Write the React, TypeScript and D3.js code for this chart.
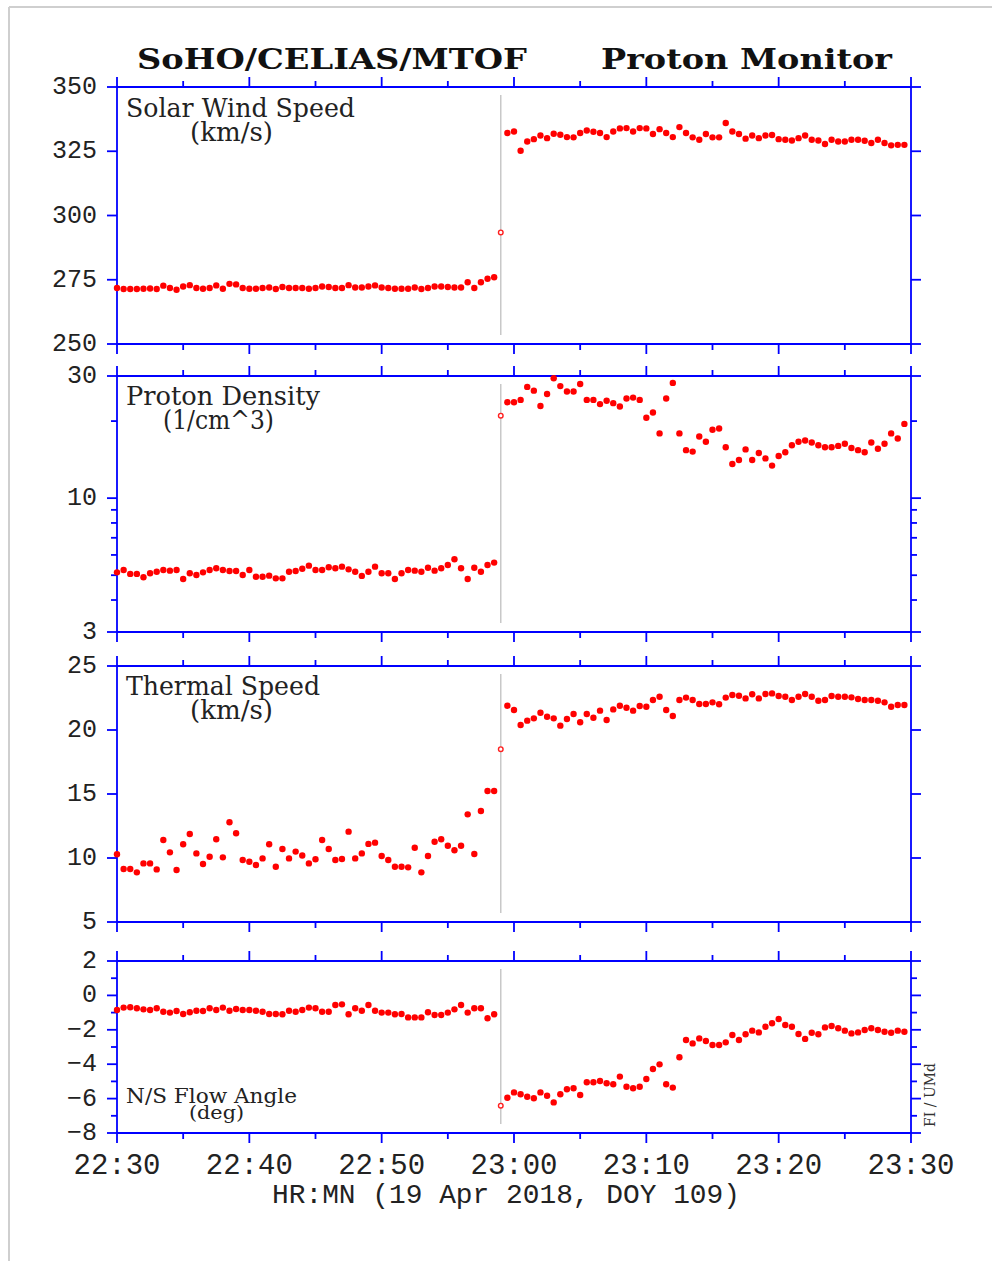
import React from 'react';
import * as d3 from 'd3';

// ---------------- DATA ----------------
// 30-second cadence samples, 22:30 -> 23:30 (minutes after 22:30)
const cadenceMin = 0.5;
const shockTime = 29.0;
const postStart = 29.5;

const speedPre = [271.8, 271.4, 271.4, 271.4, 271.5, 271.6, 271.4, 272.7, 271.8, 271.1, 272.4, 272.9, 271.8, 271.5, 271.8, 272.8, 271.5, 273.4, 273.2, 271.8, 271.5, 271.5, 271.8, 272.0, 271.4, 272.2, 271.8, 271.8, 271.8, 271.5, 271.8, 272.4, 272.2, 271.8, 271.8, 272.9, 272.0, 272.0, 272.4, 272.8, 272.0, 271.8, 271.5, 271.5, 271.5, 272.0, 271.4, 271.8, 272.4, 272.4, 272.2, 272.0, 272.0, 274.0, 271.8, 274.0, 275.4, 276.0];
const speedShock = 293.4;
const speedPost = [332.1, 332.7, 325.2, 328.8, 329.7, 331.1, 330.1, 331.8, 331.4, 330.5, 330.4, 332.1, 333.1, 332.6, 332.1, 330.5, 332.7, 333.9, 334.0, 332.7, 334.0, 333.9, 331.7, 333.6, 332.1, 330.5, 334.4, 332.1, 330.4, 329.5, 331.7, 330.4, 330.4, 336.0, 332.7, 331.7, 329.9, 331.1, 330.1, 331.1, 331.3, 329.7, 329.5, 329.2, 330.1, 331.1, 329.5, 329.2, 327.8, 329.5, 328.8, 328.8, 329.5, 329.5, 329.1, 328.2, 329.5, 328.2, 327.3, 327.5, 327.5];

const densityPre = [5.13, 5.24, 5.06, 5.06, 4.91, 5.09, 5.16, 5.24, 5.21, 5.24, 4.83, 5.09, 5.01, 5.13, 5.24, 5.32, 5.24, 5.19, 5.19, 5.01, 5.24, 4.93, 4.93, 4.98, 4.86, 4.86, 5.16, 5.19, 5.3, 5.45, 5.24, 5.24, 5.37, 5.32, 5.40, 5.27, 5.16, 4.97, 5.16, 5.40, 5.09, 5.09, 4.83, 5.09, 5.24, 5.21, 5.16, 5.35, 5.21, 5.32, 5.48, 5.77, 5.32, 4.83, 5.35, 5.16, 5.48, 5.60];
const densityShock = 21.0;
const densityPost = [23.7, 23.7, 24.2, 27.2, 26.3, 22.9, 25.5, 29.4, 27.4, 26.1, 26.1, 27.9, 24.2, 24.2, 23.3, 24.0, 23.5, 22.8, 24.5, 24.7, 24.2, 20.6, 21.6, 17.9, 24.5, 28.2, 17.9, 15.4, 15.2, 17.4, 16.6, 18.5, 18.7, 15.8, 13.6, 14.1, 15.5, 14.1, 15.0, 14.3, 13.4, 14.6, 15.1, 16.1, 16.6, 16.8, 16.5, 16.1, 15.8, 15.8, 16.0, 16.3, 15.7, 15.4, 15.1, 16.5, 15.6, 16.3, 17.9, 17.1, 19.5];

const thermalPre = [10.29, 9.14, 9.14, 8.88, 9.58, 9.58, 9.11, 11.41, 10.44, 9.06, 11.07, 11.88, 10.36, 9.53, 10.1, 11.46, 10.05, 12.79, 11.93, 9.84, 9.71, 9.45, 9.97, 11.07, 9.32, 10.7, 9.97, 10.5, 10.2, 9.58, 9.9, 11.41, 10.7, 9.84, 9.92, 12.06, 9.97, 10.36, 11.1, 11.2, 10.16, 9.84, 9.32, 9.32, 9.27, 10.8, 8.88, 10.16, 11.27, 11.46, 10.96, 10.6, 10.96, 13.41, 10.31, 13.67, 15.23, 15.23];
const thermalShock = 18.5;
const thermalPost = [21.9, 21.56, 20.39, 20.73, 20.91, 21.35, 21.04, 20.91, 20.34, 20.86, 21.25, 20.6, 21.25, 20.96, 21.51, 20.78, 21.61, 21.9, 21.74, 21.51, 21.88, 21.82, 22.34, 22.6, 21.56, 21.09, 22.34, 22.53, 22.34, 22.03, 22.03, 22.16, 22.01, 22.53, 22.73, 22.68, 22.47, 22.79, 22.47, 22.81, 22.86, 22.66, 22.6, 22.34, 22.6, 22.81, 22.6, 22.29, 22.34, 22.66, 22.6, 22.6, 22.55, 22.42, 22.34, 22.34, 22.29, 22.16, 21.82, 21.95, 21.95];

const anglePre = [-0.85, -0.71, -0.69, -0.75, -0.81, -0.85, -0.75, -0.95, -1.0, -0.91, -1.08, -0.98, -0.89, -0.91, -0.75, -0.85, -0.71, -0.89, -0.79, -0.85, -0.85, -0.89, -0.95, -1.08, -1.08, -1.10, -0.89, -0.95, -0.85, -0.71, -0.75, -0.95, -0.95, -0.56, -0.52, -1.10, -0.75, -0.89, -0.56, -0.89, -1.0, -1.0, -1.10, -1.08, -1.28, -1.28, -1.28, -0.98, -1.14, -1.14, -1.0, -0.81, -0.56, -1.0, -0.75, -0.75, -1.33, -1.10];
const angleShock = -6.41;
const anglePost = [-5.95, -5.64, -5.75, -5.89, -5.98, -5.64, -5.83, -6.22, -5.75, -5.46, -5.40, -5.79, -5.05, -5.05, -4.98, -5.11, -5.17, -4.72, -5.31, -5.40, -5.31, -4.86, -4.28, -4.01, -5.17, -5.36, -3.60, -2.59, -2.79, -2.50, -2.65, -2.88, -2.88, -2.73, -2.30, -2.59, -2.26, -2.05, -2.15, -1.82, -1.62, -1.37, -1.72, -1.82, -2.24, -2.53, -2.17, -2.26, -1.86, -1.78, -1.91, -2.05, -2.21, -2.15, -2.01, -1.91, -2.01, -2.11, -2.17, -2.05, -2.11];

const speedTicks = [250, 275, 300, 325, 350];
const densityMajorTicks = [3, 10, 30];
const densityMinorTicks = [4, 5, 6, 7, 8, 9, 20];
const thermalTicks = [5, 10, 15, 20, 25];
const angleMajorTicks = [-8, -6, -4, -2, 0, 2];
const angleMinorTicks = [-7, -5, -3, -1, 1];

const timeDomain = [0, 60];
const timeMajorTicks = [0, 10, 20, 30, 40, 50, 60];
const timeMinorTicks = [5, 15, 25, 35, 45, 55];
const timeTickLabels = ['22:30', '22:40', '22:50', '23:00', '23:10', '23:20', '23:30'];

const titleLeft = 'SoHO/CELIAS/MTOF';
const titleRight = 'Proton Monitor';
const xAxisTitle = 'HR:MN (19 Apr 2018, DOY 109)';
const creditText = 'FI / UMd';

// ---------------- LAYOUT ----------------
const W = 992;
const H = 1261;
const X0 = 117;
const X1 = 911;
const BLUE = '#0000ff';
const MAJ = 10;
const MIN = 6;

type PanelDef = {
  top: number;
  bottom: number;
  log: boolean;
  domain: [number, number];
  major: number[];
  minor: number[];
  pre: number[];
  shock: number;
  post: number[];
  label: string;
  unit: string;
  labelY: number;
  unitY: number;
  labelLen: number;
  unitX: number;
  unitLen: number;
  labelSize: number;
  unitSize: number;
};

const panels: PanelDef[] = [
  { top: 87, bottom: 344, log: false, domain: [250, 350], major: speedTicks, minor: [], pre: speedPre, shock: speedShock, post: speedPost,
    label: 'Solar Wind Speed', unit: '(km/s)', labelY: 117, unitY: 141, labelLen: 229, unitX: 190, unitLen: 83, labelSize: 26, unitSize: 26 },
  { top: 376, bottom: 632, log: true, domain: [3, 30], major: densityMajorTicks, minor: densityMinorTicks, pre: densityPre, shock: densityShock, post: densityPost,
    label: 'Proton Density', unit: '(1/cm^3)', labelY: 405, unitY: 429, labelLen: 194, unitX: 163, unitLen: 111, labelSize: 26, unitSize: 26 },
  { top: 666, bottom: 922, log: false, domain: [5, 25], major: thermalTicks, minor: [], pre: thermalPre, shock: thermalShock, post: thermalPost,
    label: 'Thermal Speed', unit: '(km/s)', labelY: 695, unitY: 719, labelLen: 194, unitX: 190, unitLen: 83, labelSize: 26, unitSize: 26 },
  { top: 961, bottom: 1133, log: false, domain: [-8, 2], major: angleMajorTicks, minor: angleMinorTicks, pre: anglePre, shock: angleShock, post: anglePost,
    label: 'N/S Flow Angle', unit: '(deg)', labelY: 1103, unitY: 1119, labelLen: 171, unitX: 189, unitLen: 55, labelSize: 20, unitSize: 18 },
];

const fmt = (v: number) => (v < 0 ? '\u2212' + Math.abs(v) : String(v));

function Panel({ p, x }: { p: PanelDef; x: d3.ScaleLinear<number, number> }) {
  const y = p.log
    ? d3.scaleLog().domain(p.domain).range([p.bottom, p.top])
    : d3.scaleLinear().domain(p.domain).range([p.bottom, p.top]);
  const pre = p.pre.map((v, i) => ({ t: i * cadenceMin, v }));
  const post = p.post.map((v, i) => ({ t: postStart + i * cadenceMin, v }));
  const pts = [...pre, ...post];
  const sw = 1.8;
  return (
    <g>
      {/* shock marker line */}
      <line x1={x(shockTime)} x2={x(shockTime)} y1={p.top + 8} y2={p.bottom - 9} stroke="#c8c8c8" strokeWidth={1.5} />
      {/* frame */}
      <line x1={X0} x2={X1} y1={p.top} y2={p.top} stroke={BLUE} strokeWidth={sw} />
      <line x1={X0} x2={X1} y1={p.bottom} y2={p.bottom} stroke={BLUE} strokeWidth={sw} />
      <line x1={X0} x2={X0} y1={p.top} y2={p.bottom} stroke={BLUE} strokeWidth={sw} />
      <line x1={X1} x2={X1} y1={p.top} y2={p.bottom} stroke={BLUE} strokeWidth={sw} />
      {/* y ticks */}
      {p.major.map((v) => (
        <g key={'M' + v}>
          <line x1={X0 - MAJ} x2={X0} y1={y(v)} y2={y(v)} stroke={BLUE} strokeWidth={sw} />
          <line x1={X1} x2={X1 + MAJ} y1={y(v)} y2={y(v)} stroke={BLUE} strokeWidth={sw} />
          <text x={97} y={y(v) + 7} textAnchor="end" fontFamily="'Liberation Mono', monospace" fontSize={25} fill="#222">{fmt(v)}</text>
        </g>
      ))}
      {p.minor.map((v) => (
        <g key={'m' + v}>
          <line x1={X0 - MIN} x2={X0} y1={y(v)} y2={y(v)} stroke={BLUE} strokeWidth={sw} />
          <line x1={X1} x2={X1 + MIN} y1={y(v)} y2={y(v)} stroke={BLUE} strokeWidth={sw} />
        </g>
      ))}
      {/* x ticks top & bottom */}
      {timeMajorTicks.map((t) => (
        <g key={'tM' + t}>
          <line x1={x(t)} x2={x(t)} y1={p.top - MAJ} y2={p.top} stroke={BLUE} strokeWidth={sw} />
          <line x1={x(t)} x2={x(t)} y1={p.bottom} y2={p.bottom + MAJ} stroke={BLUE} strokeWidth={sw} />
        </g>
      ))}
      {timeMinorTicks.map((t) => (
        <g key={'tm' + t}>
          <line x1={x(t)} x2={x(t)} y1={p.top - MIN} y2={p.top} stroke={BLUE} strokeWidth={sw} />
          <line x1={x(t)} x2={x(t)} y1={p.bottom} y2={p.bottom + MIN} stroke={BLUE} strokeWidth={sw} />
        </g>
      ))}
      {/* labels */}
      <text x={126} y={p.labelY} fontFamily="'DejaVu Serif', serif" fontSize={p.labelSize} fill="#222" textLength={p.labelLen} lengthAdjust="spacingAndGlyphs">{p.label}</text>
      <text x={p.unitX} y={p.unitY} fontFamily="'DejaVu Serif', serif" fontSize={p.unitSize} fill="#222" textLength={p.unitLen} lengthAdjust="spacingAndGlyphs">{p.unit}</text>
      {/* data */}
      {pts.map((d, i) => (
        <circle key={i} cx={x(d.t)} cy={y(d.v)} r={3.2} fill="#ff0000" />
      ))}
      <circle cx={x(shockTime)} cy={y(p.shock)} r={2.3} fill="#ffffff" stroke="#ff2020" strokeWidth={1.4} />
    </g>
  );
}

export default function App() {
  const x = d3.scaleLinear().domain(timeDomain).range([X0, X1]);
  return (
    <svg width={W} height={H} style={{ position: 'absolute', left: 0, top: 0, display: 'block', background: '#fff' }}>
      <rect x={0} y={0} width={W} height={H} fill="#fff" />
      <line x1={9} x2={W} y1={7} y2={7} stroke="#cfcfcf" strokeWidth={2} />
      <line x1={9} x2={9} y1={7} y2={H} stroke="#cfcfcf" strokeWidth={2} />
      <text x={137} y={69} fontFamily="'DejaVu Serif', serif" fontWeight="bold" fontSize={27} fill="#111" textLength={390} lengthAdjust="spacingAndGlyphs">{titleLeft}</text>
      <text x={601} y={69} fontFamily="'DejaVu Serif', serif" fontWeight="bold" fontSize={27} fill="#111" textLength={291} lengthAdjust="spacingAndGlyphs">{titleRight}</text>
      {panels.map((p, i) => (
        <Panel key={i} p={p} x={x} />
      ))}
      {timeMajorTicks.map((t, i) => (
        <text key={t} x={x(t)} y={1174} textAnchor="middle" fontFamily="'Liberation Mono', monospace" fontSize={29} fill="#222">{timeTickLabels[i]}</text>
      ))}
      <text x={272} y={1203} fontFamily="'Liberation Mono', monospace" fontSize={27} fill="#222" textLength={468} lengthAdjust="spacingAndGlyphs">{xAxisTitle}</text>
      <text transform="translate(935,1095) rotate(-90)" textAnchor="middle" fontFamily="'DejaVu Serif', serif" fontSize={14} fill="#333">{creditText}</text>
    </svg>
  );
}
